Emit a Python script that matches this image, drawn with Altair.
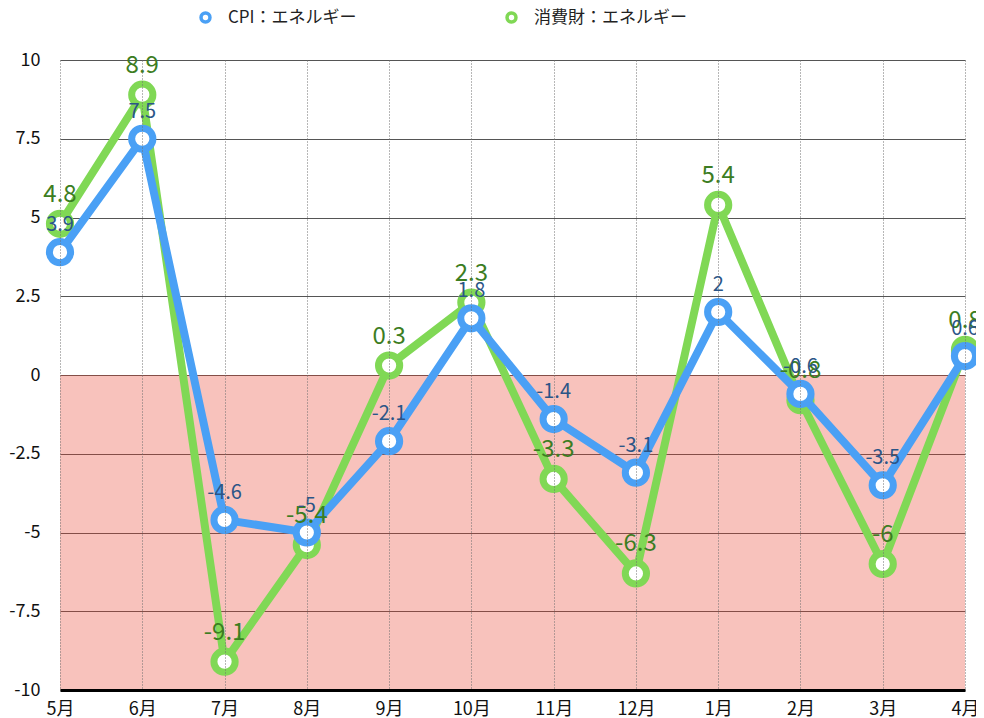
import altair as alt
import pandas as pd

months = ["5月", "6月", "7月", "8月", "9月", "10月", "11月", "12月", "1月", "2月", "3月", "4月"]
cpi = [3.9, 7.5, -4.6, -5, -2.1, 1.8, -1.4, -3.1, 2, -0.6, -3.5, 0.6]
cons = [4.8, 8.9, -9.1, -5.4, 0.3, 2.3, -3.3, -6.3, 5.4, -0.8, -6, 0.8]
series = ["CPI：エネルギー", "消費財：エネルギー"]
line_colors = ["#4aa0f5", "#80d855"]
label_colors = ["#2b5587", "#3c7d22"]
y_ticks = [-10 + 1.25 * i for i in range(17)]

FONT = "Noto Sans CJK JP"

rows = []
for s, vals in zip(series, [cpi, cons]):
    for m, v in zip(months, vals):
        rows.append({"month": m, "value": v, "series": s, "label": "{:g}".format(v)})
df = pd.DataFrame(rows)

band = pd.DataFrame({"month": [months[0]], "month2": [months[-1]], "y": [0], "y2": [-10]})

xscale = alt.Scale(type="point", domain=months, padding=0)
yscale = alt.Scale(domain=[-10, 10], nice=False, zero=False)
color = alt.Color(
    "series:N",
    scale=alt.Scale(domain=series, range=line_colors),
    legend=alt.Legend(
        title=None, orient="none", direction="horizontal",
        legendX=137, legendY=-51, padding=0,
        symbolType="circle", symbolSize=80, symbolStrokeWidth=3.5,
        symbolFillColor="white", labelFont=FONT, labelFontSize=17,
        labelColor="#222", labelOffset=14, columnPadding=143,
    ),
)

xaxis = alt.Axis(
    title=None, labelAngle=0, labelFont=FONT, labelFontSize=18, labelColor="#111",
    labelPadding=10, ticks=False, domainColor="black", domainWidth=3,
    grid=True, gridDash=[1, 2], gridColor="#6e6e6e",
)
yaxis = alt.Axis(
    title=None, values=y_ticks, ticks=False, domain=False,
    labelExpr="datum.value % 2.5 == 0 ? '' + datum.value : ''",
    labelFont=FONT, labelFontSize=18, labelColor="#111", labelPadding=20,
    grid=True,
    gridDash={"condition": {"test": "datum.value % 2.5 != 0", "value": [1, 2]}, "value": []},
    gridColor={"condition": {"test": "datum.value % 2.5 != 0", "value": "#6e6e6e"}, "value": "#555"},
)

band_layer = alt.Chart(band).mark_rect(color="#e8412e", opacity=0.32).encode(
    x=alt.X("month:O", scale=xscale, axis=xaxis),
    x2="month2",
    y=alt.Y("y:Q", scale=yscale, axis=yaxis),
    y2="y2",
)

layers = [band_layer]
base = alt.Chart(df)
for i in [1, 0]:
    s = series[i]
    sub = base.transform_filter(alt.datum.series == s)
    enc = dict(
        x=alt.X("month:O", scale=xscale),
        y=alt.Y("value:Q", scale=yscale),
        color=color,
    )
    layers.append(sub.mark_line(strokeWidth=8, strokeJoin="round").encode(**enc))
    layers.append(sub.mark_point(filled=False, fill="white", fillOpacity=1, size=450,
                                 strokeWidth=7, opacity=1).encode(**enc))
for i, fs, dy in [(1, 24, -29), (0, 20, -27)]:
    s = series[i]
    sub = base.transform_filter(alt.datum.series == s)
    layers.append(sub.mark_text(font=FONT, fontSize=fs, color=label_colors[i],
                                baseline="middle", dy=dy).encode(
        x=alt.X("month:O", scale=xscale),
        y=alt.Y("value:Q", scale=yscale),
        text="label:N",
    ))

chart = alt.layer(*layers).properties(
    width=905, height=630,
    autosize=alt.AutoSizeParams(type="none"),
    padding={"left": 52, "top": 52, "right": 11, "bottom": 28},
).configure_view(stroke=None)

chart.save("out.html", embed_options={"renderer": "svg", "actions": False})
